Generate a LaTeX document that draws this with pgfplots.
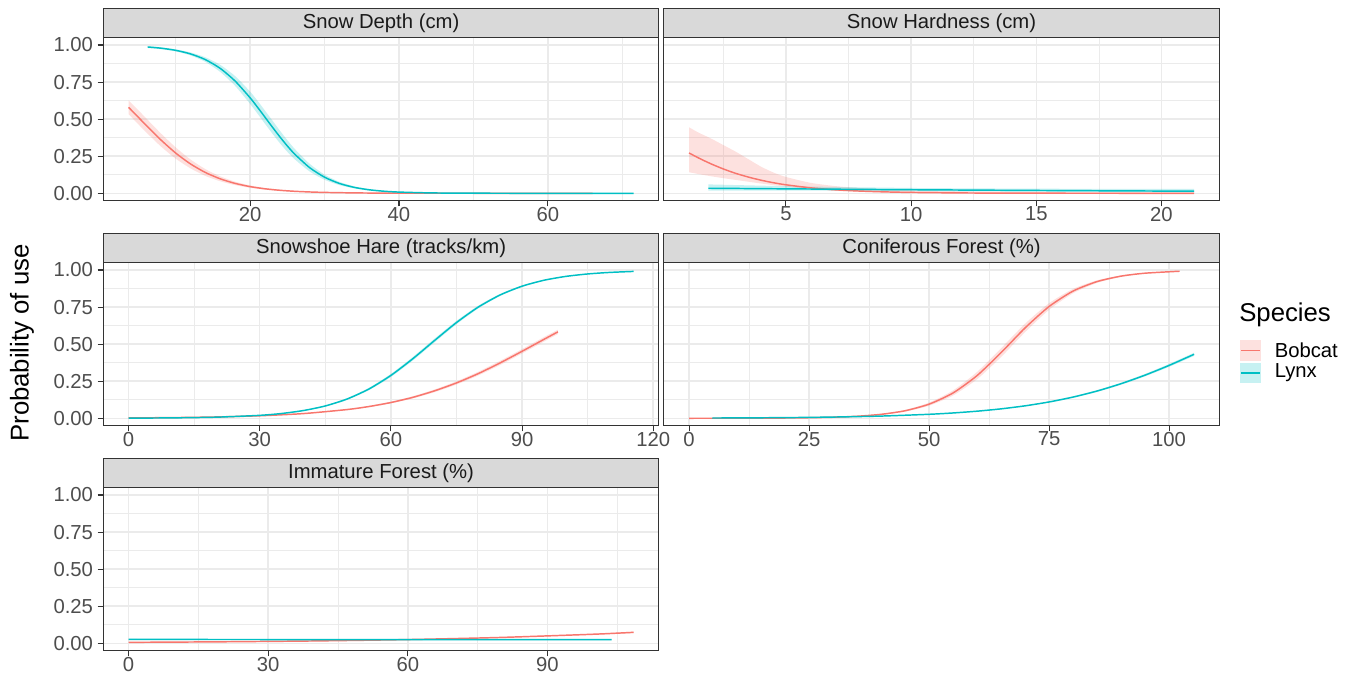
\documentclass[border=0pt]{standalone}
\usepackage{fontspec}
\setmainfont{Liberation Sans}
\usepackage{pgfplots}
\usepackage{pgfplotstable}
\pgfplotsset{compat=1.18}
\usepgfplotslibrary{fillbetween}
\definecolor{bob}{HTML}{F8766D}
\definecolor{lyn}{HTML}{00BFC4}
\definecolor{gridc}{HTML}{EBEBEB}
\definecolor{g20}{HTML}{333333}
\definecolor{g30}{HTML}{4D4D4D}
\definecolor{g85}{HTML}{D9D9D9}
\definecolor{g10}{HTML}{1A1A1A}

% Snow depth
\pgfplotstableread{
x p lo hi
6.24 0.9867 0.980 0.992
8 0.9788 0.972 0.985
10 0.9642 0.957 0.971
12 0.9401 0.930 0.950
14 0.9015 0.886 0.917
16 0.8421 0.818 0.866
18 0.7566 0.724 0.790
20 0.6443 0.603 0.686
21 0.5803 0.537 0.624
22 0.5135 0.469 0.558
23 0.4462 0.402 0.491
24 0.3808 0.338 0.423
25 0.3195 0.280 0.359
26 0.2639 0.229 0.299
28 0.1728 0.147 0.199
30 0.1085 0.091 0.126
32 0.0662 0.055 0.077
34 0.0397 0.033 0.047
36 0.0235 0.019 0.028
38 0.0138 0.011 0.017
40 0.0081 0.006 0.010
44 0.0028 0.002 0.004
48 0.0009 0.0005 0.0013
55 0.0001 0 0.0003
62 0 0 0.0001
71.5 0 0 0
}\sdL
\pgfplotstableread{
x p lo hi
3.68 0.580 0.534 0.626
5 0.5124 0.465 0.560
6 0.4608 0.414 0.508
8 0.3610 0.317 0.405
10 0.2719 0.234 0.310
12 0.1979 0.168 0.228
14 0.1402 0.117 0.163
16 0.0973 0.081 0.114
18 0.0665 0.055 0.078
20 0.0450 0.037 0.053
22 0.0302 0.025 0.036
24 0.0202 0.016 0.024
26 0.0134 0.011 0.016
28 0.0089 0.007 0.011
30 0.0059 0.0045 0.0073
34 0.0026 0.002 0.0032
38 0.0011 0.0008 0.0014
45 0.0003 0.0002 0.0004
55 0 0 0.0001
66 0 0 0
}\sdB
% Snow hardness
\pgfplotstableread{
x p lo hi
1.13 0.272 0.142 0.445
1.5 0.239 0.130 0.410
2 0.199 0.115 0.370
2.5 0.164 0.102 0.325
3 0.134 0.090 0.280
3.5 0.1093 0.078 0.230
4 0.0884 0.066 0.180
4.5 0.0712 0.055 0.140
5 0.0572 0.045 0.110
6 0.0365 0.028 0.070
7 0.0231 0.017 0.048
8 0.0146 0.010 0.035
9 0.0092 0.006 0.026
10 0.0057 0.004 0.020
12 0.0023 0.0015 0.013
14 0.0009 0.0005 0.010
17 0.0002 0 0.008
21.3 0 0 0.006
}\shB
\pgfplotstableread{
x p lo hi
1.9 0.034 0.018 0.060
5 0.030 0.018 0.048
10 0.024 0.015 0.036
15 0.019 0.011 0.031
21.3 0.014 0.006 0.029
}\shL
% Snowshoe hare
\pgfplotstableread{
x p lo hi
0 0.0010 0.0009 0.0011
10 0.0027 0.0025 0.0029
20 0.0074 0.0070 0.0078
30 0.0198 0.0190 0.0208
35 0.0323 0.0308 0.0338
40 0.0522 0.0500 0.0547
45 0.0832 0.0790 0.0870
50 0.1301 0.1245 0.1357
55 0.1978 0.1900 0.2057
60 0.2890 0.2787 0.2993
65 0.4013 0.3893 0.4133
70 0.5250 0.5125 0.5375
75 0.6457 0.6343 0.6571
80 0.7503 0.7410 0.7597
85 0.8320 0.8250 0.8390
90 0.8909 0.8860 0.8958
95 0.9309 0.9277 0.9341
100 0.9569 0.9548 0.9590
105 0.9734 0.9720 0.9747
110 0.9837 0.9829 0.9845
115.5 0.9905 0.9900 0.9910
}\haL
\pgfplotstableread{
x p lo hi
0 0.0025 0.0024 0.0026
10 0.0047 0.0044 0.0050
20 0.0089 0.0084 0.0094
30 0.0169 0.0159 0.0179
40 0.0317 0.0299 0.0335
50 0.0589 0.0556 0.0622
55 0.0794 0.0750 0.0838
60 0.1063 0.1006 0.1120
65 0.1411 0.1338 0.1484
70 0.1853 0.1762 0.1944
75 0.2385 0.2276 0.2494
80 0.3015 0.2889 0.3141
85 0.3738 0.3598 0.3878
90 0.4518 0.4370 0.4666
95 0.5322 0.5172 0.5472
98.2 0.5830 0.5684 0.5976
}\haB
% Coniferous forest
\pgfplotstableread{
x p lo hi
0 0.0001 0.0001 0.0001
10 0.0005 0.0004 0.0006
20 0.0018 0.0016 0.0020
25 0.0036 0.0032 0.0040
30 0.0070 0.0062 0.0078
35 0.0137 0.0121 0.0153
40 0.0266 0.0235 0.0297
45 0.0507 0.0450 0.0565
50 0.0952 0.0849 0.1055
55 0.1709 0.1540 0.1879
60 0.2881 0.2635 0.3127
65 0.4428 0.4132 0.4724
70 0.6096 0.5810 0.6382
75 0.7540 0.7317 0.7763
80 0.8580 0.8434 0.8726
85 0.9220 0.9134 0.9306
90 0.9588 0.9540 0.9636
95 0.9786 0.9761 0.9811
102.2 0.9918 0.9908 0.9928
}\coB
\pgfplotstableread{
x p lo hi
4.85 0.0018 0.0017 0.0019
10 0.0025 0.0024 0.0026
20 0.0045 0.0043 0.0047
30 0.0083 0.0080 0.0086
40 0.0149 0.0143 0.0155
50 0.0269 0.0259 0.0279
55 0.0359 0.0345 0.0373
60 0.0479 0.0461 0.0497
65 0.0636 0.0612 0.0660
70 0.0840 0.0809 0.0871
75 0.1101 0.1062 0.1140
80 0.1431 0.1382 0.1480
85 0.1839 0.1780 0.1898
90 0.2333 0.2261 0.2405
95 0.2911 0.2828 0.2994
100 0.3566 0.3470 0.3662
105.2 0.4314 0.4206 0.4422
}\coL
% Immature forest
\pgfplotstableread{
x p lo hi
0 0.0063 0.0050 0.0076
20 0.0100 0.0088 0.0112
40 0.0158 0.0145 0.0171
60 0.0251 0.0238 0.0264
80 0.0395 0.0375 0.0415
100 0.0612 0.0575 0.0649
108.5 0.0738 0.0690 0.0786
}\imB
\pgfplotstableread{
x p lo hi
0 0.026 0.023 0.029
50 0.025 0.023 0.027
103.8 0.024 0.021 0.027
}\imL

\pgfplotsset{
  panel/.style={
    scale only axis, width=416.625pt, height=122.325pt, anchor=south west,
    ymin=-0.05, ymax=1.05,
    ytick={0,0.25,0.5,0.75,1},
    minor ytick={0.125,0.375,0.625,0.875},
    yticklabels={0.00,0.25,0.50,0.75,1.00},
    grid=both,
    major grid style={color=gridc, line width=1.1pt},
    minor grid style={color=gridc, line width=0.55pt},
    tick align=outside, tick pos=left,
    major tick length=4.2pt, minor tick length=0pt,
    tick style={color=g20, line width=0.8pt},
    axis line style={color=g20, line width=0.7pt},
    tick label style={font=\fontsize{15.2}{18}\selectfont, text=g30},
    xticklabel style={yshift=3pt},
  },
  nolab/.style={yticklabels={}, ytick style={draw=none}},
  edge/.style={draw=none, smooth, tension=0.4},
  bandB/.style={fill=bob, fill opacity=0.22, draw=none},
  bandL/.style={fill=lyn, fill opacity=0.22, draw=none},
  lineB/.style={color=bob, line width=1.1pt, smooth, tension=0.4, line join=round},
  lineL/.style={color=lyn, line width=1.1pt, smooth, tension=0.4, line join=round},
}

\begin{document}
\begin{tikzpicture}

% Panel 1: Snow Depth
\begin{axis}[panel, at={(77.475pt,353.475pt)},
  xmin=0.29, xmax=74.89, xtick={20,40,60}, xticklabels={20,40,60},
  minor xtick={10,30,50,70}]
\addplot[edge, name path=a1] table[x=x,y=hi]{\sdB};
\addplot[edge, name path=b1] table[x=x,y=lo]{\sdB};
\addplot[bandB] fill between[of=a1 and b1];
\addplot[edge, name path=a2] table[x=x,y=hi]{\sdL};
\addplot[edge, name path=b2] table[x=x,y=lo]{\sdL};
\addplot[bandL] fill between[of=a2 and b2];
\addplot[lineB] table[x=x,y=p]{\sdB};
\addplot[lineL] table[x=x,y=p]{\sdL};
\end{axis}

% Panel 2: Snow Hardness
\begin{axis}[panel, nolab, at={(497.85pt,353.475pt)},
  xmin=0.1215, xmax=22.31, xtick={5,10,15,20}, xticklabels={5,10,15,20},
  minor xtick={2.5,7.5,12.5,17.5}]
\addplot[edge, name path=a1] table[x=x,y=hi]{\shB};
\addplot[edge, name path=b1] table[x=x,y=lo]{\shB};
\addplot[bandB] fill between[of=a1 and b1];
\addplot[edge, name path=a2] table[x=x,y=hi]{\shL};
\addplot[edge, name path=b2] table[x=x,y=lo]{\shL};
\addplot[bandL] fill between[of=a2 and b2];
\addplot[lineB] table[x=x,y=p]{\shB};
\addplot[lineL] table[x=x,y=p]{\shL};
\end{axis}

% Panel 3: Snowshoe Hare
\begin{axis}[panel, at={(77.475pt,184.725pt)},
  xmin=-5.775, xmax=121.275, xtick={0,30,60,90,120}, xticklabels={0,30,60,90,120},
  minor xtick={15,45,75,105}]
\addplot[edge, name path=a1] table[x=x,y=hi]{\haB};
\addplot[edge, name path=b1] table[x=x,y=lo]{\haB};
\addplot[bandB] fill between[of=a1 and b1];
\addplot[edge, name path=a2] table[x=x,y=hi]{\haL};
\addplot[edge, name path=b2] table[x=x,y=lo]{\haL};
\addplot[bandL] fill between[of=a2 and b2];
\addplot[lineB] table[x=x,y=p]{\haB};
\addplot[lineL] table[x=x,y=p]{\haL};
\end{axis}

% Panel 4: Coniferous Forest
\begin{axis}[panel, nolab, at={(497.85pt,184.725pt)},
  xmin=-5.26, xmax=110.46, xtick={0,25,50,75,100}, xticklabels={0,25,50,75,100},
  minor xtick={12.5,37.5,62.5,87.5}]
\addplot[edge, name path=a1] table[x=x,y=hi]{\coB};
\addplot[edge, name path=b1] table[x=x,y=lo]{\coB};
\addplot[bandB] fill between[of=a1 and b1];
\addplot[edge, name path=a2] table[x=x,y=hi]{\coL};
\addplot[edge, name path=b2] table[x=x,y=lo]{\coL};
\addplot[bandL] fill between[of=a2 and b2];
\addplot[lineB] table[x=x,y=p]{\coB};
\addplot[lineL] table[x=x,y=p]{\coL};
\end{axis}

% Panel 5: Immature Forest
\begin{axis}[panel, at={(77.475pt,15.975pt)},
  xmin=-5.425, xmax=113.925, xtick={0,30,60,90}, xticklabels={0,30,60,90},
  minor xtick={15,45,75,105}]
\addplot[edge, name path=a1] table[x=x,y=hi]{\imB};
\addplot[edge, name path=b1] table[x=x,y=lo]{\imB};
\addplot[bandB] fill between[of=a1 and b1];
\addplot[edge, name path=a2] table[x=x,y=hi]{\imL};
\addplot[edge, name path=b2] table[x=x,y=lo]{\imL};
\addplot[bandL] fill between[of=a2 and b2];
\addplot[lineB] table[x=x,y=p]{\imB};
\addplot[lineL] table[x=x,y=p]{\imL};
\end{axis}

% strips, titles, legend in image-pixel coordinates
\begin{scope}[x=0.75pt, y=-0.75pt, yshift=504pt]
  \tikzset{strip/.style={draw=g20, fill=g85, line width=0.6pt},
           stext/.style={font=\fontsize{15.2}{18}\selectfont, text=g10}}
  \draw[strip] (103.3,8) rectangle (658.8,37.6);
  \node[stext] at (381.05,22.8) {Snow Depth (cm)};
  \draw[strip] (663.8,8) rectangle (1219.3,37.6);
  \node[stext] at (941.55,22.8) {Snow Hardness (cm)};
  \draw[strip] (103.3,233) rectangle (658.8,262.6);
  \node[stext] at (381.05,247.8) {Snowshoe Hare (tracks/km)};
  \draw[strip] (663.8,233) rectangle (1219.3,262.6);
  \node[stext] at (941.55,247.8) {Coniferous Forest (\%)};
  \draw[strip] (103.3,458) rectangle (658.8,487.6);
  \node[stext] at (381.05,472.8) {Immature Forest (\%)};
  % y label
  \node[rotate=90, font=\fontsize{19.3}{23}\selectfont, text=black] at (22,343) {Probability of use};
  % legend
  \node[anchor=west, font=\fontsize{19.3}{23}\selectfont, text=black, inner sep=0pt] at (1239,315) {Species};
  \fill[bob, opacity=0.22] (1240,340) rectangle (1260.7,360.7);
  \draw[bob, line width=1.1pt] (1241,350.35) -- (1259.7,350.35);
  \fill[lyn, opacity=0.22] (1240,362.7) rectangle (1260.7,383.4);
  \draw[lyn, line width=1.1pt] (1241,373.05) -- (1259.7,373.05);
  \node[anchor=west, font=\fontsize{15.2}{18}\selectfont, text=black, inner sep=0pt] at (1274.5,350.35) {Bobcat};
  \node[anchor=west, font=\fontsize{15.2}{18}\selectfont, text=black, inner sep=0pt] at (1274.5,373.05) {Lynx};
\end{scope}
\pgfresetboundingbox
\useasboundingbox (0,0) rectangle (1015.5pt,504pt);
\end{tikzpicture}
\end{document}
